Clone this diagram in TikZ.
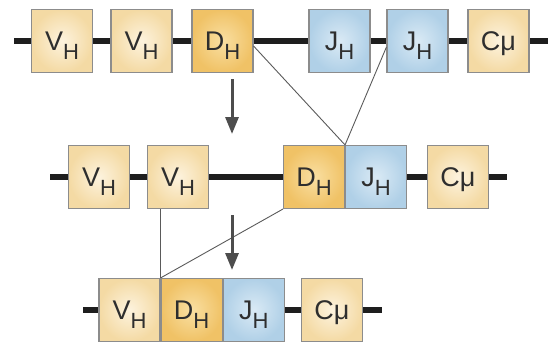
\documentclass[tikz,border=0pt]{standalone}
\usepackage{fontspec}
\setmainfont{Liberation Sans}
\usetikzlibrary{arrows.meta,positioning}
\definecolor{vtan}{HTML}{F4DAA4}
\definecolor{vtanin}{HTML}{FDF3DE}
\definecolor{dorg}{HTML}{F0C266}
\definecolor{dorgin}{HTML}{F9DFA2}
\definecolor{jblu}{HTML}{B0D0E7}
\definecolor{jbluin}{HTML}{DAEAF5}
\definecolor{boxgray}{HTML}{8C8C8C}
\definecolor{txtgray}{HTML}{2E2E2E}
\definecolor{dnablack}{HTML}{1E1E1E}
\definecolor{lnkgray}{HTML}{5A5A5A}
\definecolor{arrgray}{HTML}{4D4D4D}
\tikzset{
  seg/.style={draw=boxgray,line width=1.1pt,minimum width=61pt,minimum height=63pt,inner sep=0pt,
    text height=22pt,text depth=4pt,text=txtgray,font=\fontsize{27}{30}\selectfont},
  vseg/.style={seg,inner color=vtanin,outer color=vtan},
  dseg/.style={seg,inner color=dorgin,outer color=dorg},
  jseg/.style={seg,inner color=jbluin,outer color=jblu},
  dna/.style={line width=6pt,draw=dnablack},
  lnk/.style={line width=0.9pt,draw=lnkgray},
  stp/.style={line width=3pt,draw=arrgray,-{Triangle[length=17pt,width=13pt]}}
}
\newcommand{\gs}[2]{#1\raisebox{-9pt}{\fontsize{22}{24}\selectfont #2}}

\begin{document}
\begin{tikzpicture}[x=1pt,y=-1pt]
\useasboundingbox (0,0) rectangle (548,343);
% germline
\coordinate (r1w) at (14,41); \coordinate (r1e) at (548,41);
\draw[dna] (r1w) -- (r1e);
\node[vseg] (v1a) at (62,41) {\gs{V}{H}};
\node[vseg] (v1b) at (141.5,41) {\gs{V}{H}};
\node[dseg] (d1) at (222.5,41) {\gs{D}{H}};
\node[jseg] (j1a) at (339.5,41) {\gs{J}{H}};
\node[jseg] (j1b) at (417.5,41) {\gs{J}{H}};
\node[vseg] (c1) at (498.5,41) {Cμ};
% D-J joined
\coordinate (r2w) at (50,177); \coordinate (r2e) at (507,177);
\draw[dna] (r2w) -- (r2e);
\node[vseg] (v2a) at (99,177) {\gs{V}{H}};
\node[vseg] (v2b) at (178,177) {\gs{V}{H}};
\node[dseg] (d2) at (314,177) {\gs{D}{H}};
\node[jseg,right=0pt of d2] (j2) {\gs{J}{H}};
\node[vseg] (c2) at (458,177) {Cμ};
% V-DJ joined
\coordinate (r3w) at (83,310); \coordinate (r3e) at (382,310);
\draw[dna] (r3w) -- (r3e);
\node[vseg] (v3) at (129.5,310) {\gs{V}{H}};
\node[dseg,right=0pt of v3] (d3) {\gs{D}{H}};
\node[jseg,right=0pt of d3] (j3) {\gs{J}{H}};
\node[vseg] (c3) at (332,310) {Cμ};
% joins
\draw[lnk] ([yshift=-5pt]d1.east) -- (d2.north east);
\draw[lnk] ([yshift=-6pt]j1b.west) -- (d2.north east);
\draw[lnk] (v3.north east |- v2b.south) -- (v3.north east);
\draw[lnk] (d2.south west) -- (v3.north east);
% steps
\coordinate (s1a) at (232,79); \coordinate (s1b) at (232,134);
\coordinate (s2a) at (232,215); \coordinate (s2b) at (232,270);
\draw[stp] (s1a) -- (s1b);
\draw[stp] (s2a) -- (s2b);
\end{tikzpicture}
\end{document}
